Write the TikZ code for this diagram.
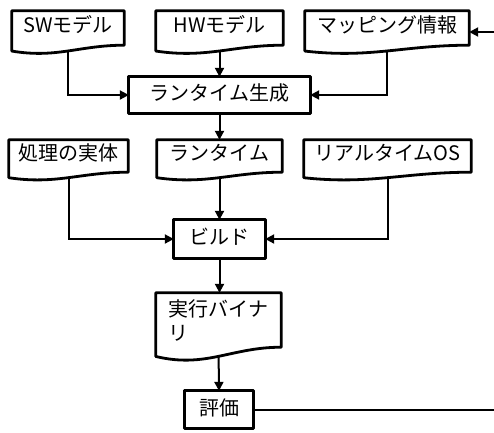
\documentclass[tikz,border=0pt]{standalone}
\usepackage{fontspec}
\newfontfamily\jp{Noto Sans CJK JP}
\usetikzlibrary{arrows.meta,calc}
\pgfdeclarelayer{conns}
\pgfdeclarelayer{outl}
\pgfsetlayers{conns,outl,main}
\newcommand\docoutline[1]{%
  \draw[docline] let \p1=(#1.north west), \p2=(#1.south east), \n1={\y1-\y2}, \n2={0.17*\n1} in
    (\x1,\y1) -- (\x2,\y1) -- (\x2,\y2)
    .. controls ({0.4*\x1+0.6*\x2},\y2) and ({0.6*\x1+0.4*\x2},{\y2-2.3*\n2}) .. (\x1,{\y2-\n2}) -- cycle;}
\newcommand\procoutline[1]{%
  \draw[docline] (#1.north west) rectangle (#1.south east);}
\begin{document}
\begin{tikzpicture}[x=1pt,y=-1pt,
  jpfont/.style={font=\jp\fontsize{20pt}{24pt}\selectfont},
  procbox/.style={inner sep=0pt, jpfont, text height=15pt, text depth=3.4pt},
  doc/.style={inner sep=0pt, jpfont, text height=14pt, text depth=4.4pt},
  multidoc/.style={inner sep=0pt, jpfont, align=left},
  conn/.style={line width=2pt, -{Triangle[length=9pt,width=9pt]}},
  docline/.style={line width=2.8pt, fill=white, line join=round}]
\useasboundingbox (0,0) rectangle (494,432);
% document-shaped nodes
\node[doc, minimum width=112pt, minimum height=34pt] (sw)  at (68,28)    {SWモデル};
\node[doc, minimum width=127pt, minimum height=34pt] (hw)  at (219.5,28) {HWモデル};
\node[doc, minimum width=164pt, minimum height=34pt] (map) at (387,28)   {マッピング情報};
\node[doc, minimum width=119pt, minimum height=32pt] (pr)  at (68.5,156)  {処理の実体};
\node[doc, minimum width=125pt, minimum height=32pt] (rt)  at (219.5,156) {ランタイム};
\node[doc, minimum width=167pt, minimum height=32pt] (os)  at (387.5,156) {リアルタイムOS};
\node[multidoc, minimum width=125pt, minimum height=54pt] (bin) at (218.5,320) {実行バイナ\\リ};
% process boxes
\node[procbox, minimum width=181pt, minimum height=36pt] (gen)   at (219.5,95)    {ランタイム生成};
\node[procbox, minimum width=91pt,  minimum height=38pt] (build) at (219.5,239)   {ビルド};
\node[procbox, minimum width=68pt,  minimum height=37pt] (eval)  at (219,409.5)   {評価};
% connectors
\begin{pgfonlayer}{conns}
\draw[conn] (sw.south) |- (gen.west);
\draw[conn] (hw.south) -- (hw.south |- gen.north);
\draw[conn] (map.south) |- (gen.east);
\draw[conn] (gen.south) -- (gen.south |- rt.north);
\draw[conn] (pr.south) |- (build.west);
\draw[conn] (rt.south) -- (rt.south |- build.north);
\draw[conn] (os.south) |- (build.east);
\draw[conn] (build.south) -- (build.south |- bin.north);
\draw[conn] (bin.south) -- (eval.north);
\coordinate (fb) at (500,0);
\coordinate (mapin) at ([yshift=-4pt]map.east);
\draw[conn] (eval.east) -| (fb |- mapin) -- (mapin);
\end{pgfonlayer}
% shape outlines
\begin{pgfonlayer}{outl}
\foreach \nm in {sw,hw,map,pr,rt,os,bin} {\docoutline{\nm}}
\foreach \nm in {gen,build,eval} {\procoutline{\nm}}
\end{pgfonlayer}
\end{tikzpicture}
\end{document}
